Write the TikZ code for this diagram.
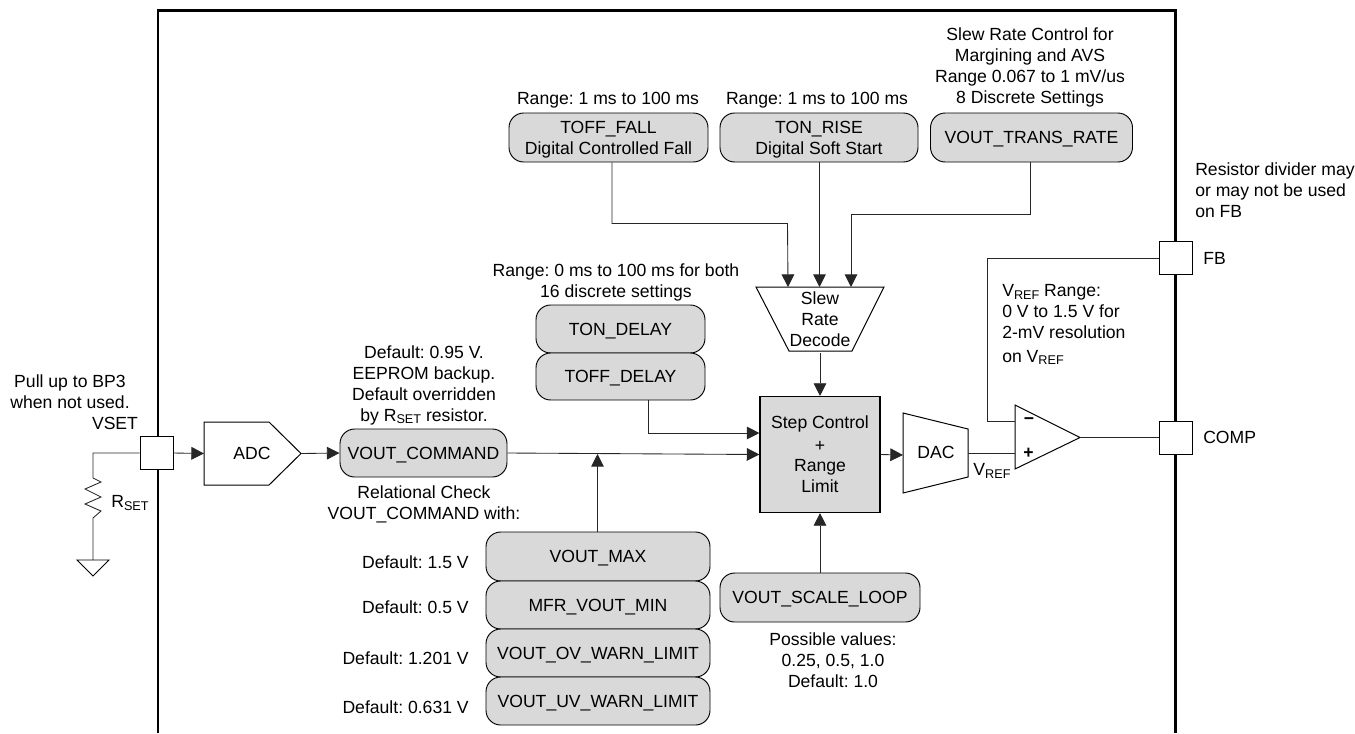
\documentclass[tikz,border=0pt]{standalone}
\usepackage{fontspec}
\setmainfont{Liberation Sans}
\usetikzlibrary{arrows.meta,calc}
\newcommand\subs[1]{\raisebox{-0.3ex}{\fontsize{9.5}{9.5}\selectfont #1}}
\tikzset{
  px/.style 2 args={minimum width=#1*0.75pt,minimum height=#2*0.75pt},
  wire/.style={line width=0.65pt,draw=black!85},
  arr/.style={wire,-{Triangle[length=9.5pt,width=9.5pt]}},
  shape line/.style={line width=0.75pt,draw=black,fill=white},
  reg/.style={draw=black,line width=0.7pt,fill=black!15,rounded corners=11pt,inner sep=0pt,align=center,text depth=0pt},
  pin/.style={draw=black,line width=0.75pt,fill=white,inner sep=0pt,px={33}{33}},
  step box/.style={draw=black,line width=0.85pt,fill=black!15,inner sep=0pt,align=center},
  lbl/.style={inner sep=0pt,align=center},
  lbll/.style={inner sep=0pt,align=left,anchor=west},
  lblr/.style={inner sep=0pt,align=right,anchor=east},
  every node/.append style={font=\frenchspacing\fontsize{13.2}{15.75}\selectfont}
}
\begin{document}
\begin{tikzpicture}[x=0.75pt,y=-0.75pt]
\useasboundingbox (0,0) rectangle (1355,733);
% frame
\draw[line width=1.6pt,line cap=butt] (158,733) -- (158,10.5) -- (1175.5,10.5) -- (1175.5,733);
% registers
\node[reg,px={199}{49}] (tofffall) at (608.5,137.5) {TOFF\_FALL\\Digital Controlled Fall};
\node[reg,px={198}{49}] (tonrise) at (819,137.5) {TON\_RISE\\Digital Soft Start};
\node[reg,px={202}{49}] (transrate) at (1031.5,137.5) {VOUT\_TRANS\_RATE};
\node[reg,px={169}{48}] (tondelay) at (620.5,329) {TON\_DELAY};
\node[reg,px={169}{47}] (toffdelay) at (620.5,376.5) {TOFF\_DELAY};
\node[reg,px={167}{48}] (cmd) at (423.5,453) {VOUT\_COMMAND};
\node[reg,px={224}{49}] (vmax) at (598,556.5) {VOUT\_MAX};
\node[reg,px={224}{48}] (vmin) at (598,605) {MFR\_VOUT\_MIN};
\node[reg,px={224}{48}] (vov) at (598,653) {VOUT\_OV\_WARN\_LIMIT};
\node[reg,px={224}{48}] (vuv) at (598,701) {VOUT\_UV\_WARN\_LIMIT};
\node[reg,px={200}{49}] (scale) at (820,597.5) {VOUT\_SCALE\_LOOP};
\node[step box,px={120}{116}] (stepctl) at (820,454.5) {Step Control\\[1.5pt]+\\[-1pt]Range\\Limit};
% polygon shapes
\draw[shape line] (204,422) -- (269,422) -- (301,453.5) -- (269,485) -- (204,485) -- cycle;
\node[lbl] (adc) at (252,453) {ADC};
\coordinate (adcin) at (204,453.5);
\coordinate (adcout) at (301,453.5);
\draw[shape line] (756,287) -- (884,287) -- (852,351) -- (789,351) -- cycle;
\node[lbl] (slew) at (820,319) {Slew\\Rate\\Decode};
\coordinate (slewa) at (788,287);
\coordinate (slewb) at (819.5,287);
\coordinate (slewc) at (851,287);
\coordinate (slewout) at (820,353);
\draw[shape line] (903,413) -- (968,429) -- (968,477) -- (903,493) -- cycle;
\node[lbl] (dac) at (936,452) {DAC};
\coordinate (dacin) at (903,455);
\coordinate (dacout) at (968,453);
\draw[shape line] (1015,405) -- (1080,437.5) -- (1015,469) -- cycle;
\coordinate (oppos) at (1015,453);
\coordinate (opneg) at (1015,421.5);
\coordinate (opout) at (1080,437.5);
\node[lbl] (minus) at (1029,421) {\textbf{−}};
\node[lbl] (plus) at (1028.5,453) {\textbf{+}};
% pins
\node[pin] (vset) at (156.5,453) {};
\node[pin] (fb) at (1175.5,258) {};
\node[pin] (comp) at (1175.5,438) {};
% connectors
\draw[arr] (vset.east) -- (adcin);
\draw[arr] (adcout) -- (cmd.west);
\draw[arr] (cmd.east) -- (stepctl.west);
\coordinate (join) at (597.5,454);
\draw[arr] (vmax.north -| join) -- (join);
\draw[arr] (toffdelay.south -| 648,0) -- (648,433) -- (stepctl.west |- 0,433);
\draw[arr] (tofffall.south -| 612,0) -- (612,223.5) -- (787.5,223.5) -- (slewa);
\draw[arr] (tonrise.south -| slewb) -- (slewb);
\draw[arr] (transrate.south -| 1030,0) -- (1030,214) -- (851,214) -- (slewc);
\draw[arr] (slewout) -- (stepctl.north);
\draw[arr] (scale.north) -- (stepctl.south);
\draw[arr] (stepctl.east) -- (dacin);
\draw[wire] (dacout) -- (oppos);
\draw[wire] (opout) -- (comp.west |- opout);
\draw[wire] (fb.west) -- (987,258) -- (987,421.5) -- (opneg);
% RSET network
\coordinate (rtop) at (93,478);
\coordinate (gnd) at (93,560);
\draw[wire] (vset.west) -- (93,453) -- (rtop) -- (101,482) -- (85,489) -- (101,497) -- (85,504) -- (101,511) -- (93,518) -- (gnd);
\draw[line width=0.7pt] (77,560) -- (109,560) -- (93,576) -- cycle;
% labels
\node[lbl] (l1) at (70,391.5) {Pull up to BP3\\when not used.};
\node[lbl] (l2) at (115,423) {VSET};
\node[lbl] (l3) at (130,503) {R\subs{SET}};
\node[lbl] (l4) at (424,385) {Default: 0.95 V.\\EEPROM backup.\\Default overridden\\by R\subs{SET} resistor.};
\node[lbl] (l5) at (424,504.5) {Relational Check\\VOUT\_COMMAND with:};
\node[lblr] (d1) at (469,562) {Default: 1.5 V};
\node[lblr] (d2) at (469,607) {Default: 0.5 V};
\node[lblr] (d3) at (469,658) {Default: 1.201 V};
\node[lblr] (d4) at (469,707) {Default: 0.631 V};
\node[lbl] (l6) at (616,282.5) {Range: 0 ms to 100 ms for both\\16 discrete settings};
\node[lbl] (l7) at (608,100) {Range: 1 ms to 100 ms};
\node[lbl] (l8) at (817,100) {Range: 1 ms to 100 ms};
\node[lbl] (l9) at (1030,67) {Slew Rate Control for\\Margining and AVS\\Range 0.067 to 1 mV/us\\8 Discrete Settings};
\node[lbll] (l10) at (1195,190) {Resistor divider may\\or may not be used\\on FB};
\node[lbll] (l11) at (1203,258) {FB};
\node[lbll] (l12) at (1203,437) {COMP};
\node[lbll] (l13) at (1002,324.5) {V\subs{REF} Range:\\0 V to 1.5 V for\\2-mV resolution\\[2pt]on V\subs{REF}};
\node[lbl] (l14) at (992,471) {V\subs{REF}};
\node[lbl] (l15) at (833,660) {Possible values:\\0.25, 0.5, 1.0\\Default: 1.0};
\end{tikzpicture}
\end{document}
